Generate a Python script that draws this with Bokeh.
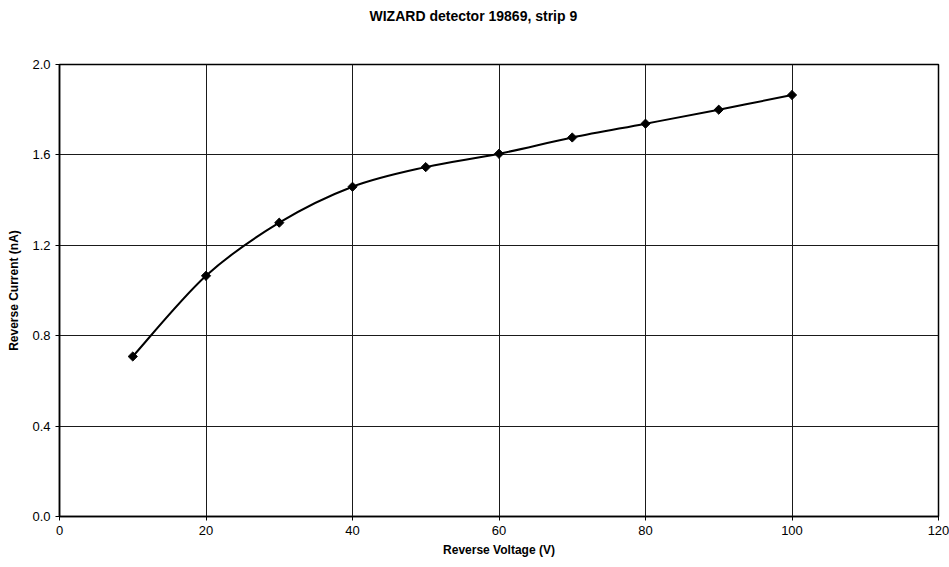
import math
from bokeh.plotting import figure
from bokeh.embed import file_html
from bokeh.resources import INLINE
from bokeh.models import FixedTicker, Range1d, CustomJSTickFormatter, ColumnDataSource, Title

# data
voltage = [10, 20, 30, 40, 50, 60, 70, 80, 90, 100]
current = [0.708, 1.065, 1.300, 1.459, 1.546, 1.605, 1.677, 1.738, 1.800, 1.865]
x_ticks = [0, 20, 40, 60, 80, 100, 120]
y_ticks = [0.0, 0.4, 0.8, 1.2, 1.6, 2.0]
title_text = "WIZARD detector 19869, strip 9"
x_label = "Reverse Voltage (V)"
y_label = "Reverse Current (nA)"

FONT = "Liberation Sans"

p = figure(width=949, height=567, output_backend="svg", toolbar_location=None,
           x_range=Range1d(0, 120), y_range=Range1d(0, 2.0),
           min_border_left=59, min_border_right=11, min_border_top=64, min_border_bottom=51,
           title=None)
p.background_fill_color = "white"
p.border_fill_color = "white"
p.outline_line_color = "black"
p.outline_line_width = 1.5
p.outline_line_alpha = 1

# spacer panel next to the frame, then the real title further out
spacer = Title(text=" ", text_font=FONT, text_font_size="14px", standoff=23)
p.add_layout(spacer, "above")
main_title = Title(text=title_text, text_font=FONT, text_font_style="bold",
                   text_font_size="14px", text_color="black", align="left",
                   offset=310, standoff=0)
p.add_layout(main_title, "above")

# axes
for ax in (p.xaxis[0], p.yaxis[0]):
    ax.axis_line_color = "black"
    ax.axis_line_width = 1.5
    ax.major_tick_line_color = "black"
    ax.major_tick_out = 4
    ax.major_tick_in = 0
    ax.minor_tick_line_color = None
    ax.major_label_text_font = FONT
    ax.major_label_text_font_size = "13px"
    ax.major_label_text_color = "black"
    ax.axis_label_text_font = FONT
    ax.axis_label_text_font_style = "bold"
    ax.axis_label_text_font_size = "12px"
    ax.axis_label_text_color = "black"

p.xaxis.ticker = FixedTicker(ticks=x_ticks)
p.yaxis.ticker = FixedTicker(ticks=y_ticks)
p.yaxis.formatter = CustomJSTickFormatter(code="return tick.toFixed(1);")
p.xaxis.axis_label = x_label
p.yaxis.axis_label = y_label
p.xaxis.major_label_standoff = 5
p.yaxis.major_label_standoff = 5
p.xaxis.axis_label_standoff = 5
p.yaxis.axis_label_standoff = 8

p.xgrid.ticker = FixedTicker(ticks=x_ticks)
p.ygrid.ticker = FixedTicker(ticks=y_ticks)
p.xgrid.grid_line_color = "#1a1a1a"
p.ygrid.grid_line_color = "#1a1a1a"
p.xgrid.grid_line_width = 1
p.ygrid.grid_line_width = 1

# smoothed curve (Catmull-Rom style Bezier, like a spreadsheet "smoothed line")
n = len(voltage)
x0, y0, x1, y1, cx0, cy0, cx1, cy1 = [], [], [], [], [], [], [], []
for i in range(n - 1):
    pm = i - 1 if i > 0 else i
    pp = i + 2 if i + 2 < n else i + 1
    x0.append(voltage[i]); y0.append(current[i])
    x1.append(voltage[i + 1]); y1.append(current[i + 1])
    cx0.append(voltage[i] + (voltage[i + 1] - voltage[pm]) / 6)
    cy0.append(current[i] + (current[i + 1] - current[pm]) / 6)
    cx1.append(voltage[i + 1] - (voltage[pp] - voltage[i]) / 6)
    cy1.append(current[i + 1] - (current[pp] - current[i]) / 6)
src = ColumnDataSource(dict(x0=x0, y0=y0, x1=x1, y1=y1, cx0=cx0, cy0=cy0, cx1=cx1, cy1=cy1))
p.bezier(x0="x0", y0="y0", x1="x1", y1="y1", cx0="cx0", cy0="cy0", cx1="cx1", cy1="cy1",
         source=src, line_color="black", line_width=2)

p.scatter(voltage, current, marker="square", angle=math.pi / 4, size=6.5,
          fill_color="black", line_color="black")

open("out.html", "w").write(file_html(p, INLINE))
